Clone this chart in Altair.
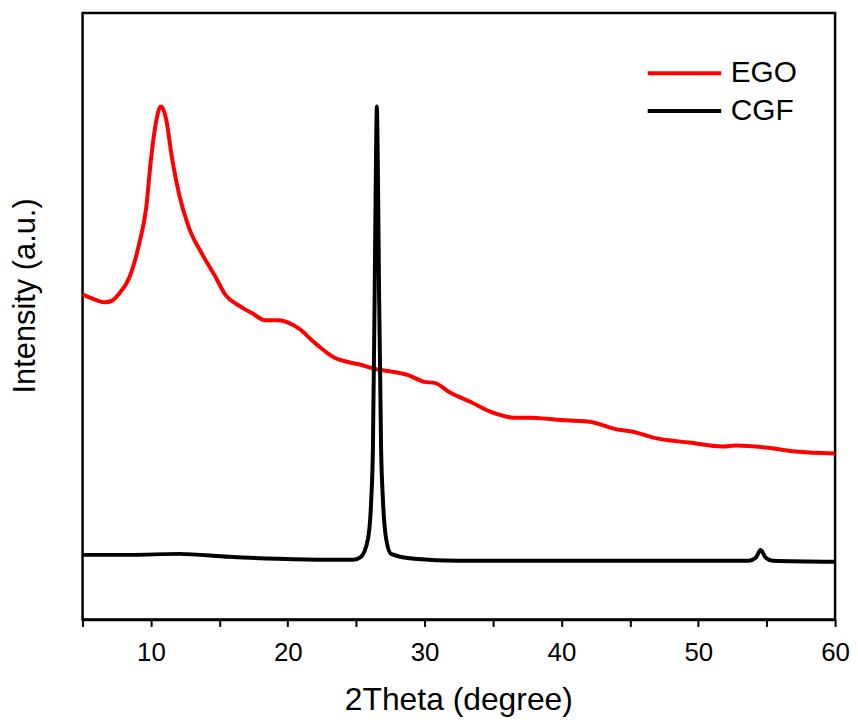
import altair as alt
import pandas as pd

# EGO curve (2theta in degrees, intensity a.u.)
ego_x = [5.0, 5.87, 6.6, 7.2, 7.69, 8.42, 9.14, 9.65, 10.01, 10.38, 10.6, 10.74, 10.9,
         11.1, 11.54, 12.05, 12.78, 13.72, 14.74, 15.47, 16.41, 17.4, 18.37, 19.32,
         20.77, 22.0, 23.46, 24.4, 25.4, 26.37, 27.31, 28.76, 30.0, 30.73, 31.89,
         33.34, 34.8, 36.54, 37.71, 39.67, 40.9, 42.07, 43.81, 45.48, 46.72, 49.33,
         51.8, 52.75, 54.93, 57.11, 60.0]
ego_y = [327, 322, 319, 321, 328, 344, 378, 414, 464, 501, 514, 516, 513,
         504, 464, 428, 394, 368, 344, 326, 316, 308, 301, 301,
         293, 278, 263, 259, 256, 252, 250, 246, 239, 238, 228,
         219, 209, 203, 203, 201, 200, 199, 192, 188, 183, 178,
         174, 175, 173, 169, 167]

# CGF curve
cgf_x = [5.0, 8.4, 12.05, 15.7, 19.3, 22.95, 24.77, 25.35, 25.86, 26.1, 26.22, 26.35,
         26.45, 26.51, 26.57, 26.67, 26.82, 26.95, 27.19, 27.55, 29.25, 32.4, 39.7,
         46.9, 53.7, 54.2, 54.56, 54.93, 55.44, 60.0]
cgf_y = [65, 65, 66, 63, 61, 60, 60, 63, 81, 121, 171, 330,
         470, 516, 470, 330, 171, 121, 81, 66, 61, 59, 59,
         59, 59, 62, 70, 62, 59, 58]

series_names = ["EGO", "CGF"]
series_colors = ["#ff0000", "#000000"]
x_ticks = [5, 10, 15, 20, 25, 30, 35, 40, 45, 50, 55, 60]

ego_df = pd.DataFrame({"theta": ego_x, "intensity": ego_y, "sample": "EGO"})
cgf_df = pd.DataFrame({"theta": cgf_x, "intensity": cgf_y, "sample": "CGF"})

FONT = "Liberation Sans"

x_enc = alt.X("theta:Q",
              scale=alt.Scale(domain=[5, 60], nice=False, zero=False),
              axis=alt.Axis(values=x_ticks, grid=False, labelFlush=False,
                            labelExpr="datum.value % 10 == 0 ? datum.label : ''",
                            labelFontSize=26, labelFont=FONT, labelColor="black",
                            labelPadding=13,
                            tickSize=7, tickWidth=2, tickColor="black",
                            domainColor="black", domainWidth=2.5,
                            title="2Theta (degree)", titleFontSize=32, titleFont=FONT,
                            titleFontWeight="normal", titleColor="black",
                            titleX=378, titleY=91, titleBaseline="alphabetic",
                            titleAlign="center"))
y_enc = alt.Y("intensity:Q",
              scale=alt.Scale(domain=[0, 610], nice=False),
              axis=alt.Axis(labels=False, ticks=False, domain=False, grid=False,
                            title="Intensity (a.u.)", titleFontSize=31, titleFont=FONT,
                            titleFontWeight="normal", titleColor="black",
                            titleAngle=270, titleX=-48, titleY=284,
                            titleBaseline="alphabetic", titleAlign="center"))
color_enc = alt.Color("sample:N",
                      scale=alt.Scale(domain=series_names, range=series_colors),
                      legend=alt.Legend(orient="none", legendX=585, legendY=40,
                                        title=None, symbolType="M-2,0H2",
                                        symbolSize=1369, symbolStrokeWidth=4,
                                        symbolFillColor="transparent",
                                        labelFontSize=30, labelFont=FONT,
                                        labelColor="black", labelOffset=26,
                                        rowPadding=2, padding=0))

ego_line = alt.Chart(ego_df).mark_line(strokeWidth=4, interpolate="monotone").encode(
    x=x_enc, y=y_enc, color=color_enc)
cgf_line = alt.Chart(cgf_df).mark_line(strokeWidth=4, interpolate="monotone").encode(
    x=x_enc, y=y_enc, color=color_enc)

chart = alt.layer(ego_line, cgf_line).properties(
    width=757, height=610,
    autosize=alt.AutoSizeParams(type="none"),
    padding={"left": 75, "top": 3, "right": 15, "bottom": 98},
    background="white",
).configure_view(stroke="black", strokeWidth=2.5)

chart.save("out.html", embed_options={"renderer": "svg", "actions": False})
